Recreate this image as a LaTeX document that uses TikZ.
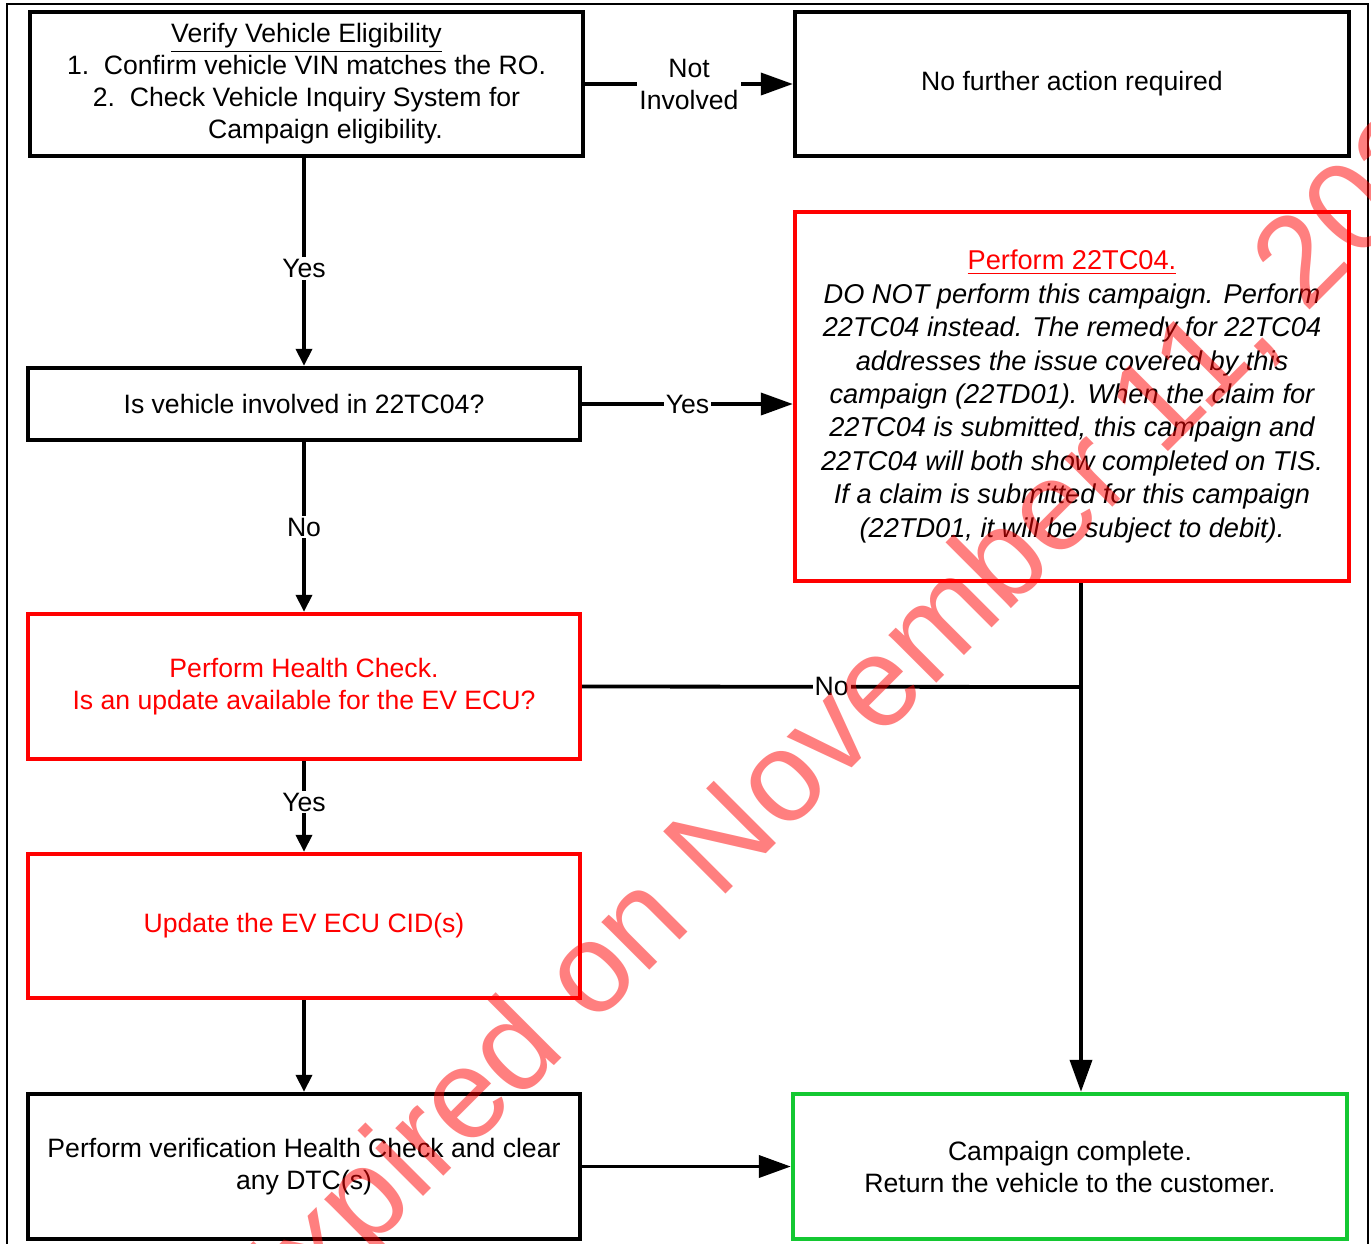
\documentclass[tikz,border=0pt]{standalone}
\usepackage{fontspec}
\setmainfont{Liberation Sans}
\usetikzlibrary{arrows.meta}
\definecolor{okgreen}{RGB}{20,200,50}
\tikzstyle{blackbox} = [draw=black, line width=2.2pt, rectangle, align=center,
    inner sep=0pt, minimum width=276pt, minimum height=72pt,
    font=\fontsize{13.3}{16}\selectfont]
\tikzstyle{redbox} = [blackbox, draw=red, text=red]
\tikzstyle{greenbox} = [blackbox, draw=okgreen]
\tikzstyle{flow} = [line width=1.9pt, -{Triangle[length=8.5pt, width=8pt]}]
\tikzstyle{bigflow} = [line width=1.9pt, -{Triangle[length=16pt, width=11pt]}]
\tikzstyle{linelabel} = [fill=white, inner sep=1pt, align=center,
    font=\fontsize{13.3}{16}\selectfont]
\tikzstyle{watermark} = [text=red, text opacity=0.5, inner sep=0pt,
    font=\fontsize{64}{64}\selectfont]

\begin{document}
\begin{tikzpicture}[x=0.5pt, y=-0.5pt]
    \clip (0,0) rectangle (1371,1243);
    \draw[line width=0.7pt] (7,4) rectangle (1368,1290);

    \node[blackbox, minimum width=276.5pt] (verify) at (306.5,84) {%
        \underline{Verify Vehicle Eligibility}\\
        1.\ \ Confirm vehicle VIN matches the RO.\\
        2.\ \ Check Vehicle Inquiry System for\\
        \hspace*{19pt}Campaign eligibility.};
    \node[blackbox, minimum width=277pt] (nofurther) at (1072,84) {No further action required};
    \node[blackbox, minimum height=36pt] (involved) at (304,404) {Is vehicle involved in 22TC04?};
    \node[blackbox, draw=red, minimum width=277pt, minimum height=184.5pt,
        font=\fontsize{13.6}{16.7}\selectfont\itshape] (perform) at (1072,396.5) {%
        {\upshape\color{red}\underline{Perform 22TC04.}}\\
        DO NOT perform this campaign. Perform\\
        22TC04 instead. The remedy for 22TC04\\
        addresses the issue covered by this\\
        campaign (22TD01). When the claim for\\
        22TC04 is submitted, this campaign and\\
        22TC04 will both show completed on TIS.\\
        If a claim is submitted for this campaign\\
        (22TD01, it will be subject to debit).};
    \node[redbox, minimum height=72.5pt] (health) at (304,686.5) {%
        Perform Health Check.\\
        Is an update available for the EV ECU?};
    \node[redbox] (update) at (304,926) {Update the EV ECU CID(s)};
    \node[blackbox, minimum height=72.5pt] (verifycheck) at (304,1166.5) {%
        Perform verification Health Check and clear\\
        any DTC(s)};
    \node[greenbox, minimum width=277pt, minimum height=72.5pt] (done) at (1070,1166.5) {%
        Campaign complete.\\
        Return the vehicle to the customer.};
    \coordinate (join) at (1081,687);

    % connectors
    \draw[bigflow] (verify.east) -- node[linelabel] {Not\\Involved} (verify.east -| nofurther.west);
    \draw[flow] (involved |- verify.south) -- node[linelabel, pos=0.53] {Yes} (involved.north);
    \draw[bigflow] (involved.east) -- node[linelabel] {Yes} (involved.east -| perform.west);
    \draw[flow] (involved.south) -- node[linelabel] {No} (health.north);
    \draw[line width=1.9pt] (health.east) -- node[linelabel] {No} (join);
    \draw[bigflow] (join |- perform.south) -- (join |- done.north);
    \draw[flow] (health.south) -- node[linelabel, pos=0.45] {Yes} (update.north);
    \draw[flow] (update.south) -- (verifycheck.north);
    \draw[bigflow] (verifycheck.east) -- (verifycheck.east -| done.west);

    \node[watermark, rotate=45, anchor=base west] (stamp) at (261,1359) {Expired on November 11, 2023};
\end{tikzpicture}
\end{document}
